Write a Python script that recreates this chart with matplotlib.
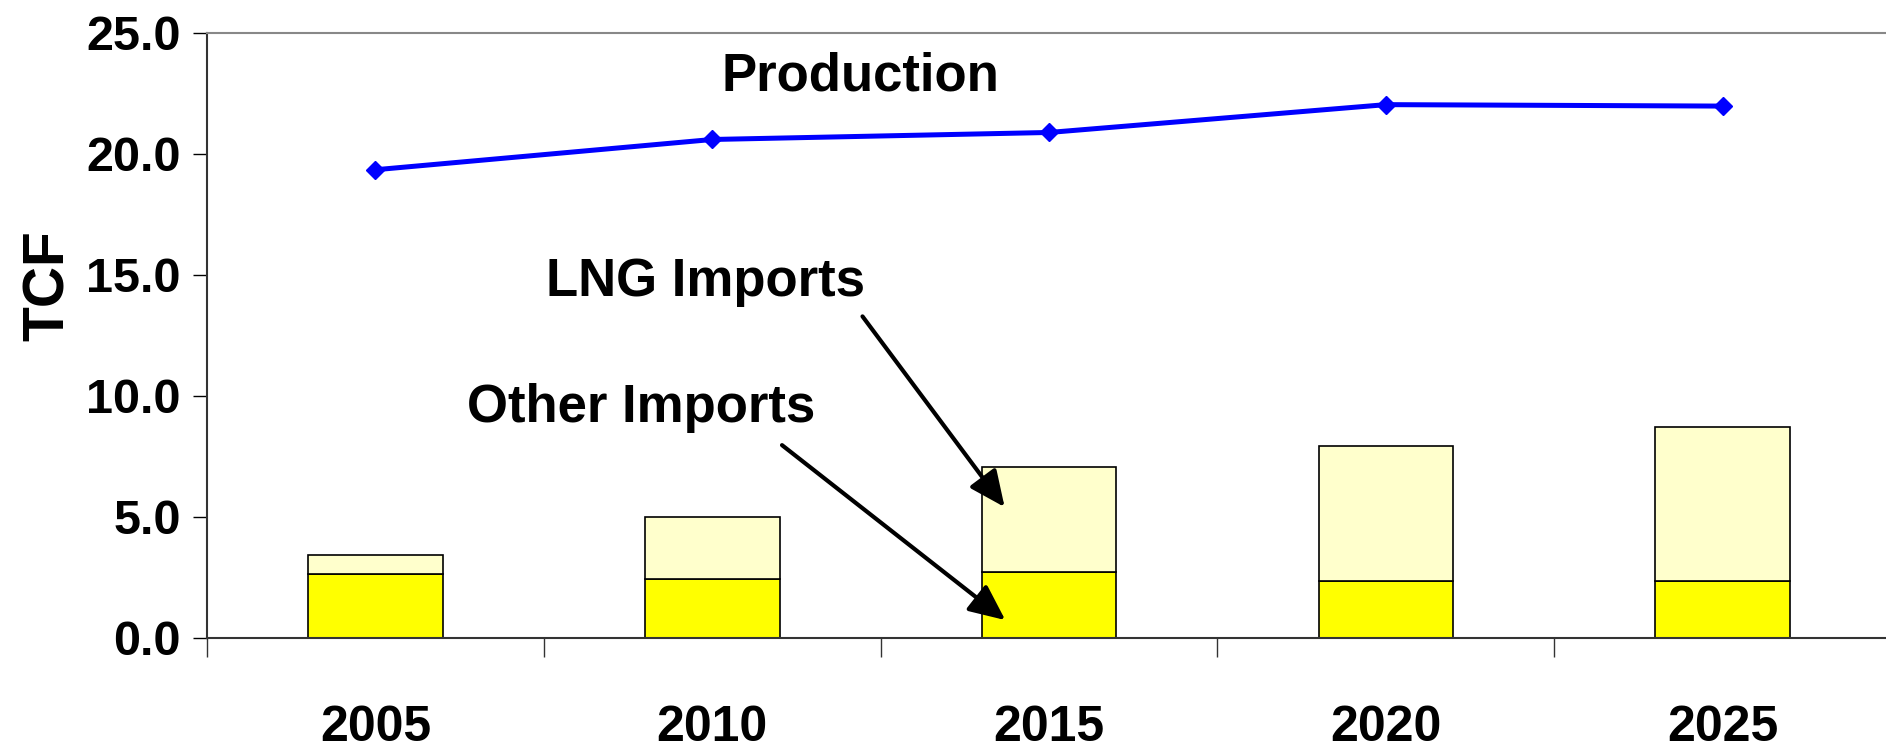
import numpy as np
import matplotlib.pyplot as plt

# values (TCF)
years = ['2005', '2010', '2015', '2020', '2025']
production = [19.33, 20.58, 20.87, 22.02, 21.96]
other_imports = [2.63, 2.40, 2.70, 2.33, 2.33]
lng_imports = [0.80, 2.59, 4.35, 5.60, 6.37]

BLUE = '#0000FF'
YELLOW = '#FFFF00'
PALE = '#FFFFCC'
plt.rcParams['font.family'] = ['Liberation Sans', 'DejaVu Sans']
plt.rcParams['font.weight'] = 'bold'

fig = plt.figure(figsize=(18.86, 7.51), dpi=100)
ax = fig.add_axes([0.1098, 0.1511, 0.8929, 0.8056])

x = np.arange(len(years))

# stacked bars: other imports at the bottom, LNG on top
ax.bar(x, other_imports, width=0.4, color=YELLOW, edgecolor='black', linewidth=1.2, zorder=2)
ax.bar(x, lng_imports, width=0.4, bottom=other_imports, color=PALE,
       edgecolor='black', linewidth=1.2, zorder=2)

# production line
ax.plot(x, production, color=BLUE, lw=3.6, marker='D', markersize=9,
        markeredgecolor=BLUE, zorder=3, clip_on=False)

ax.set_xlim(-0.5, 4.5)
ax.set_ylim(0, 25)

ax.set_yticks(np.arange(0, 25.1, 5))
ax.set_yticklabels(['%.1f' % v for v in np.arange(0, 25.1, 5)])
ax.tick_params(axis='y', direction='out', length=10, width=1, pad=9,
               labelsize=35, colors='black')

# category boundaries get the tick marks, labels sit in the middle
ax.set_xticks(np.arange(-0.5, 5, 1))
ax.set_xticklabels([])
ax.tick_params(axis='x', direction='out', length=14, width=1, colors='#333333')
for i, yr in enumerate(years):
    ax.text(i, -0.112, yr, transform=ax.get_xaxis_transform(), ha='center', va='top',
            fontsize=36, fontweight='bold')

ax.text(-0.094, 0.5815, 'TCF', transform=ax.transAxes, rotation=90,
        ha='center', va='center', fontsize=41, fontweight='bold')

ax.spines['right'].set_visible(False)
ax.spines['top'].set_color('#888888')
ax.spines['top'].set_linewidth(1.5)
ax.spines['left'].set_color('#333333')
ax.spines['left'].set_linewidth(1.5)
ax.spines['bottom'].set_color('#333333')
ax.spines['bottom'].set_linewidth(1.5)

# labels and arrows
ax.text(1.44, 23.2, 'Production', ha='center', va='center', fontsize=38, fontweight='bold')
ax.text(0.98, 14.7, 'LNG Imports', ha='center', va='center', fontsize=38, fontweight='bold')
ax.text(0.79, 9.5, 'Other Imports', ha='center', va='center', fontsize=38, fontweight='bold')

arrow = dict(arrowstyle='-|>,head_length=1.1,head_width=0.5', color='black',
             lw=3, mutation_scale=20, shrinkA=0, shrinkB=0)
ax.annotate('', xy=(1.868, 5.39), xytext=(1.446, 13.27), arrowprops=arrow, zorder=4)
ax.annotate('', xy=(1.87, 0.72), xytext=(1.207, 7.95), arrowprops=arrow, zorder=4)

fig.savefig('out.png', dpi=100)
